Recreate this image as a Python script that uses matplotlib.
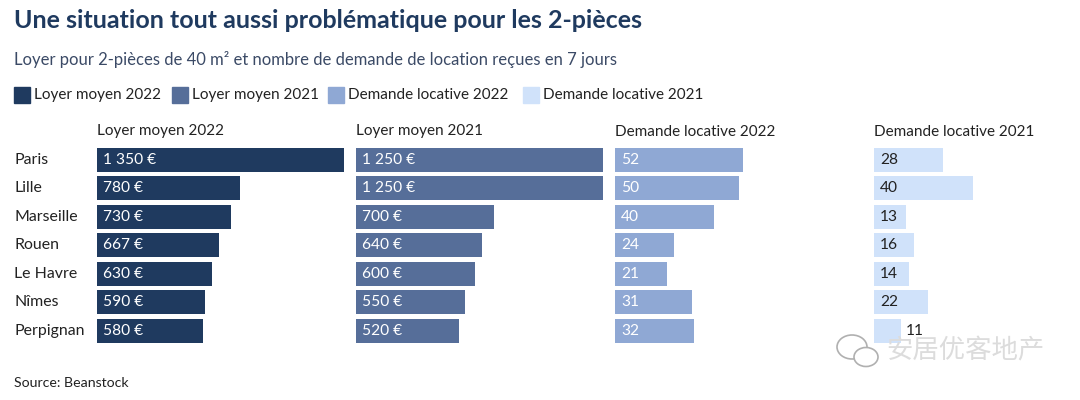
import matplotlib.pyplot as plt
from matplotlib.patches import Rectangle, Ellipse
from matplotlib.transforms import blended_transform_factory

cities = ["Paris", "Lille", "Marseille", "Rouen", "Le Havre", "Nîmes", "Perpignan"]
loyer_2022 = [1350, 780, 730, 667, 630, 590, 580]
loyer_2021 = [1250, 1250, 700, 640, 600, 550, 520]
demande_2022 = [52, 50, 40, 24, 21, 31, 32]
demande_2021 = [28, 40, 13, 16, 14, 22, 11]
series_names = ["Loyer moyen 2022", "Loyer moyen 2021", "Demande locative 2022", "Demande locative 2021"]

colors = ["#1f3a5f", "#566e99", "#8fa8d4", "#d0e2fa"]
text_in = ["white", "white", "white", "#222222"]
plt.rcParams["font.family"] = ["Lato", "DejaVu Sans"]

W, H = 1080, 400
def fx(px):
    return px / W
def fy(py):
    return 1 - py / H

fig = plt.figure(figsize=(W / 100, H / 100), dpi=100)

# titles
fig.text(fx(14), fy(20), "Une situation tout aussi problématique pour les 2-pièces",
         fontsize=18, fontweight="bold", color="#1f3a5f", va="center")
fig.text(fx(14), fy(60), "Loyer pour 2-pièces de 40 m² et nombre de demande de location reçues en 7 jours",
         fontsize=12, color="#3b4a66", va="center")

# legend
leg_x = [14, 172, 328, 523]
for x, name, c in zip(leg_x, series_names, colors):
    fig.patches.append(Rectangle((fx(x), fy(103)), 16 / W, 16 / H, color=c,
                                 transform=fig.transFigure, figure=fig))
    fig.text(fx(x + 20), fy(95), name, fontsize=11, color="#222222", va="center")

panels = [
    (loyer_2022, 1350, lambda v: f"{v:,} €".replace(",", " ")),
    (loyer_2021, 1250, lambda v: f"{v:,} €".replace(",", " ")),
    (demande_2022, 100, str),
    (demande_2021, 100, str),
]

y = list(range(len(cities)))
for i, (vals, vmax, fmt) in enumerate(panels):
    left = 97 + i * 259
    width = min(247, W - left)
    ax = fig.add_axes([fx(left), fy(345), width / W, 199.5 / H])
    ax.barh(y, vals, height=0.84, color=colors[i])
    ax.set_xlim(0, vmax * width / 247)
    ax.set_ylim(6.5, -0.5)
    ax.axis("off")
    fig.text(fx(left), fy(131.5), series_names[i], fontsize=11, color="#222222", va="center")
    px_per_unit = 247 / vmax
    for yi, v in zip(y, vals):
        # label goes outside when the bar is too short
        if v * px_per_unit < 30:
            ax.annotate(fmt(v), (v, yi), xytext=(5 * 0.72, 0), textcoords="offset points",
                        va="center", fontsize=11.2, color="#222222")
        else:
            ax.annotate(fmt(v), (0, yi), xytext=(6 * 0.72, 0), textcoords="offset points",
                        va="center", fontsize=11.2, color=text_in[i])
    if i == 0:
        tr = blended_transform_factory(fig.transFigure, ax.transData)
        for yi, c in zip(y, cities):
            ax.text(fx(14), yi, c, transform=tr, va="center", fontsize=11.4, color="#222222")

fig.text(fx(14), fy(383), "Source: Beanstock", fontsize=10.2, color="#222222", va="center")

# watermark
for (cx, cy, w, h) in [(852, 347, 30, 24), (866, 357, 24, 19)]:
    fig.patches.append(Ellipse((fx(cx), fy(cy)), w / W, h / H, facecolor="white",
                               edgecolor="#b0b0b0", lw=1.2, transform=fig.transFigure, figure=fig))
fig.text(fx(886), fy(351), "安居优客地产", fontsize=19, color="#dcdcdc", va="center",
         family=["Noto Sans CJK SC", "DejaVu Sans"])

fig.savefig("out.png", dpi=100)
